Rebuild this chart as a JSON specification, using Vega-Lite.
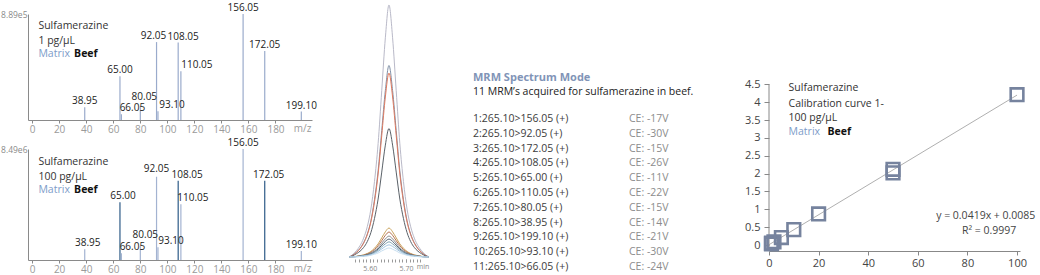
{
  "$schema": "https://vega.github.io/schema/vega-lite/v6.json",
  "padding": {"left": 0, "top": 3, "right": 0, "bottom": 0},
  "background": "white",
  "config": {"view": {"stroke": null}, "font": "Open Sans"},
  "spacing": 20,
  "hconcat": [
    {
      "bounds": "flush",
      "spacing": 29,
      "vconcat": [
        {
          "width": 284,
          "height": 106,
          "data": {"values": [
            {"mz": 38.95, "i": 12}, {"mz": 65.00, "i": 41.3}, {"mz": 66.05, "i": 5.4},
            {"mz": 80.05, "i": 13}, {"mz": 92.05, "i": 73.5}, {"mz": 93.10, "i": 8.2},
            {"mz": 108.05, "i": 73}, {"mz": 110.05, "i": 46}, {"mz": 156.05, "i": 100},
            {"mz": 172.05, "i": 65}, {"mz": 199.10, "i": 8}
          ]},
          "layer": [
            {
              "mark": {"type": "rule", "strokeWidth": 1.2},
              "encoding": {
                "x": {"field": "mz", "type": "quantitative",
                  "scale": {"domain": [-3, 207], "nice": false, "zero": false},
                  "axis": {"values": [0, 20, 40, 60, 80, 100, 120, 140, 160, 180], "tickCount": 50, "title": null, "grid": false,
                    "domainColor": "#8a8a8a", "tickColor": "#8a8a8a", "tickSize": 3, "labelPadding": 1,
                    "labelFontSize": 10, "labelColor": "#9a9a9a", "labelOverlap": false, "labelFlush": false}},
                "y": {"field": "i", "type": "quantitative",
                  "scale": {"domain": [0, 100], "nice": false},
                  "axis": {"values": [100], "labelExpr": "'8.89e5'", "title": null, "grid": false, "ticks": false,
                    "domainColor": "#8a8a8a", "labelPadding": 1, "labelFontSize": 8.5, "labelColor": "#8a8a8a"}},
                "y2": {"datum": 0},
                "color": {"value": "#9aabcc"}
              }
            },
            {
              "mark": {"type": "text", "baseline": "bottom", "fontSize": 10, "color": "#222",
                "dx": {"expr": "datum.mz==66.05?11:datum.mz==80.05?4:datum.mz==92.05?-3:datum.mz==93.1?14:datum.mz==108.05?5:datum.mz==110.05?16:0"},
                "dy": {"expr": "datum.mz==80.05?-4:-1"}},
              "encoding": {
                "x": {"field": "mz", "type": "quantitative"},
                "y": {"field": "i", "type": "quantitative"},
                "text": {"field": "mz", "type": "quantitative", "format": ".2f"}
              }
            },
            {
              "data": {"values": [{}]},
              "mark": {"type": "text", "align": "center", "baseline": "middle", "dy": 9, "fontSize": 10, "color": "#9a9a9a"},
              "encoding": {"x": {"datum": 200}, "y": {"datum": 0}, "text": {"value": "m/z"}}
            },
            {
              "data": {"values": [{}]},
              "mark": {"type": "text", "align": "left", "baseline": "middle", "fontSize": 10.5, "color": "#333"},
              "encoding": {"x": {"datum": 4.7}, "y": {"datum": 89}, "text": {"value": "Sulfamerazine"}}
            },
            {
              "data": {"values": [{}]},
              "mark": {"type": "text", "align": "left", "baseline": "middle", "fontSize": 10.5, "color": "#333"},
              "encoding": {"x": {"datum": 4.7}, "y": {"datum": 74.5}, "text": {"value": "1 pg/µL"}}
            },
            {
              "data": {"values": [{}]},
              "mark": {"type": "text", "align": "left", "baseline": "middle", "fontSize": 10.5, "color": "#7d9cc9"},
              "encoding": {"x": {"datum": 4.7}, "y": {"datum": 61.8}, "text": {"value": "Matrix"}}
            },
            {
              "data": {"values": [{}]},
              "mark": {"type": "text", "align": "left", "baseline": "middle", "fontSize": 10.5, "fontWeight": "bold", "color": "#111"},
              "encoding": {"x": {"datum": 31.1}, "y": {"datum": 61.8}, "text": {"value": "Beef"}}
            }
          ]
        },
        {
          "width": 284,
          "height": 111,
          "data": {"values": [
            {"mz": 38.95, "i": 9.7}, {"mz": 65.00, "i": 52}, {"mz": 66.05, "i": 6},
            {"mz": 80.05, "i": 12.6}, {"mz": 92.05, "i": 75}, {"mz": 93.10, "i": 11.5},
            {"mz": 108.05, "i": 71.4}, {"mz": 110.05, "i": 50.3}, {"mz": 156.05, "i": 100},
            {"mz": 172.05, "i": 71.4}, {"mz": 199.10, "i": 8}
          ]},
          "layer": [
            {
              "mark": {"type": "rule", "strokeWidth": 1.2},
              "encoding": {
                "x": {"field": "mz", "type": "quantitative",
                  "scale": {"domain": [-3, 207], "nice": false, "zero": false},
                  "axis": {"values": [0, 20, 40, 60, 80, 100, 120, 140, 160, 180], "tickCount": 50, "title": null, "grid": false,
                    "domainColor": "#8a8a8a", "tickColor": "#8a8a8a", "tickSize": 3, "labelPadding": 1,
                    "labelFontSize": 10, "labelColor": "#9a9a9a", "labelOverlap": false, "labelFlush": false}},
                "y": {"field": "i", "type": "quantitative",
                  "scale": {"domain": [0, 100], "nice": false},
                  "axis": {"values": [100], "labelExpr": "'8.49e6'", "title": null, "grid": false, "ticks": false,
                    "domainColor": "#8a8a8a", "labelPadding": 1, "labelFontSize": 8.5, "labelColor": "#8a8a8a"}},
                "y2": {"datum": 0},
                "color": {"condition": {"test": "datum.mz==65 || datum.mz==108.05 || datum.mz==172.05", "value": "#2e5b87"}, "value": "#a3b3d1"}
              }
            },
            {
              "mark": {"type": "text", "baseline": "bottom", "fontSize": 10, "color": "#222",
                "dx": {"expr": "datum.mz==38.95?3:datum.mz==65?3:datum.mz==66.05?11:datum.mz==80.05?5:datum.mz==93.1?13:datum.mz==108.05?9:datum.mz==110.05?12:datum.mz==172.05?4:0"},
                "dy": {"expr": "datum.mz==80.05?-6:datum.mz==92.05?-3:-1"}},
              "encoding": {
                "x": {"field": "mz", "type": "quantitative"},
                "y": {"field": "i", "type": "quantitative"},
                "text": {"field": "mz", "type": "quantitative", "format": ".2f"}
              }
            },
            {
              "data": {"values": [{}]},
              "mark": {"type": "text", "align": "center", "baseline": "middle", "dy": 9, "fontSize": 10, "color": "#9a9a9a"},
              "encoding": {"x": {"datum": 200}, "y": {"datum": 0}, "text": {"value": "m/z"}}
            },
            {
              "data": {"values": [{}]},
              "mark": {"type": "text", "align": "left", "baseline": "middle", "fontSize": 10.5, "color": "#333"},
              "encoding": {"x": {"datum": 4.7}, "y": {"datum": 88}, "text": {"value": "Sulfamerazine"}}
            },
            {
              "data": {"values": [{}]},
              "mark": {"type": "text", "align": "left", "baseline": "middle", "fontSize": 10.5, "color": "#333"},
              "encoding": {"x": {"datum": 4.7}, "y": {"datum": 74.5}, "text": {"value": "100 pg/µL"}}
            },
            {
              "data": {"values": [{}]},
              "mark": {"type": "text", "align": "left", "baseline": "middle", "fontSize": 10.5, "color": "#7d9cc9"},
              "encoding": {"x": {"datum": 4.7}, "y": {"datum": 63}, "text": {"value": "Matrix"}}
            },
            {
              "data": {"values": [{}]},
              "mark": {"type": "text", "align": "left", "baseline": "middle", "fontSize": 10.5, "fontWeight": "bold", "color": "#111"},
              "encoding": {"x": {"datum": 31.1}, "y": {"datum": 63}, "text": {"value": "Beef"}}
            }
          ]
        }
      ]
    },
    {
      "width": 116,
      "height": 245,
      "data": {"values": [
        {"t": 5.543, "c1": 0, "c2": 0, "c3": 0, "c4": 0, "c5": 0, "c6": 0, "c7": 0, "c8": 0, "c9": 0, "c10": 0, "c11": 0},
        {"t": 5.553, "c1": 1, "c2": 0.8, "c3": 0.7, "c4": 0.5, "c5": 0.1, "c6": 0.1, "c7": 0.1, "c8": 0.1, "c9": 0.1, "c10": 0, "c11": 0},
        {"t": 5.563, "c1": 2.5, "c2": 1.9, "c3": 1.8, "c4": 1.3, "c5": 0.3, "c6": 0.2, "c7": 0.2, "c8": 0.2, "c9": 0.2, "c10": 0.1, "c11": 0.1},
        {"t": 5.573, "c1": 4.5, "c2": 3.4, "c3": 3.3, "c4": 2.3, "c5": 0.5, "c6": 0.4, "c7": 0.4, "c8": 0.3, "c9": 0.3, "c10": 0.2, "c11": 0.2},
        {"t": 5.583, "c1": 7.5, "c2": 5.7, "c3": 5.5, "c4": 3.8, "c5": 0.9, "c6": 0.7, "c7": 0.6, "c8": 0.5, "c9": 0.5, "c10": 0.4, "c11": 0.3},
        {"t": 5.593, "c1": 12, "c2": 9.1, "c3": 8.8, "c4": 6.1, "c5": 1.4, "c6": 1.2, "c7": 1, "c8": 0.9, "c9": 0.7, "c10": 0.6, "c11": 0.4},
        {"t": 5.603, "c1": 19, "c2": 14.4, "c3": 13.9, "c4": 9.7, "c5": 2.2, "c6": 1.9, "c7": 1.6, "c8": 1.3, "c9": 1.1, "c10": 0.9, "c11": 0.7},
        {"t": 5.613, "c1": 30, "c2": 22.8, "c3": 21.9, "c4": 15.3, "c5": 3.5, "c6": 3, "c7": 2.5, "c8": 2.1, "c9": 1.8, "c10": 1.4, "c11": 1.1},
        {"t": 5.623, "c1": 45, "c2": 34.2, "c3": 32.9, "c4": 23, "c5": 5.2, "c6": 4.5, "c7": 3.7, "c8": 3.2, "c9": 2.7, "c10": 2.2, "c11": 1.6},
        {"t": 5.633, "c1": 66, "c2": 50.2, "c3": 48.2, "c4": 33.7, "c5": 7.6, "c6": 6.5, "c7": 5.5, "c8": 4.7, "c9": 4, "c10": 3.2, "c11": 2.4},
        {"t": 5.643, "c1": 87, "c2": 66.1, "c3": 63.5, "c4": 44.4, "c5": 10, "c6": 8.6, "c7": 7.2, "c8": 6.2, "c9": 5.2, "c10": 4.2, "c11": 3.1},
        {"t": 5.653, "c1": 100, "c2": 76, "c3": 73, "c4": 51, "c5": 11.5, "c6": 9.9, "c7": 8.3, "c8": 7.1, "c9": 6, "c10": 4.8, "c11": 3.6},
        {"t": 5.663, "c1": 87, "c2": 66.1, "c3": 63.5, "c4": 44.4, "c5": 10, "c6": 8.6, "c7": 7.2, "c8": 6.2, "c9": 5.2, "c10": 4.2, "c11": 3.1},
        {"t": 5.673, "c1": 66, "c2": 50.2, "c3": 48.2, "c4": 33.7, "c5": 7.6, "c6": 6.5, "c7": 5.5, "c8": 4.7, "c9": 4, "c10": 3.2, "c11": 2.4},
        {"t": 5.683, "c1": 45, "c2": 34.2, "c3": 32.9, "c4": 23, "c5": 5.2, "c6": 4.5, "c7": 3.7, "c8": 3.2, "c9": 2.7, "c10": 2.2, "c11": 1.6},
        {"t": 5.693, "c1": 30, "c2": 22.8, "c3": 21.9, "c4": 15.3, "c5": 3.5, "c6": 3, "c7": 2.5, "c8": 2.1, "c9": 1.8, "c10": 1.4, "c11": 1.1},
        {"t": 5.703, "c1": 19, "c2": 14.4, "c3": 13.9, "c4": 9.7, "c5": 2.2, "c6": 1.9, "c7": 1.6, "c8": 1.3, "c9": 1.1, "c10": 0.9, "c11": 0.7},
        {"t": 5.713, "c1": 12, "c2": 9.1, "c3": 8.8, "c4": 6.1, "c5": 1.4, "c6": 1.2, "c7": 1, "c8": 0.9, "c9": 0.7, "c10": 0.6, "c11": 0.4},
        {"t": 5.723, "c1": 7.5, "c2": 5.7, "c3": 5.5, "c4": 3.8, "c5": 0.9, "c6": 0.7, "c7": 0.6, "c8": 0.5, "c9": 0.5, "c10": 0.4, "c11": 0.3},
        {"t": 5.733, "c1": 4.5, "c2": 3.4, "c3": 3.3, "c4": 2.3, "c5": 0.5, "c6": 0.4, "c7": 0.4, "c8": 0.3, "c9": 0.3, "c10": 0.2, "c11": 0.2},
        {"t": 5.743, "c1": 2.5, "c2": 1.9, "c3": 1.8, "c4": 1.3, "c5": 0.3, "c6": 0.2, "c7": 0.2, "c8": 0.2, "c9": 0.2, "c10": 0.1, "c11": 0.1},
        {"t": 5.753, "c1": 1, "c2": 0.8, "c3": 0.7, "c4": 0.5, "c5": 0.1, "c6": 0.1, "c7": 0.1, "c8": 0.1, "c9": 0.1, "c10": 0, "c11": 0},
        {"t": 5.763, "c1": 0, "c2": 0, "c3": 0, "c4": 0, "c5": 0, "c6": 0, "c7": 0, "c8": 0, "c9": 0, "c10": 0, "c11": 0}
      ]},
      "resolve": {"axis": {"x": "independent"}},
      "layer": [
        {
          "transform": [{"fold": ["c1", "c2", "c3", "c4", "c5", "c6", "c7", "c8", "c9", "c10", "c11"], "as": ["curve", "v"]}],
          "mark": {"type": "line", "strokeWidth": 1, "interpolate": "monotone"},
          "encoding": {
            "x": {"field": "t", "type": "quantitative",
              "scale": {"domain": [5.5094, 5.8299], "nice": false, "zero": false},
              "axis": {"orient": "bottom", "values": [5.56, 5.57, 5.58, 5.59, 5.6, 5.61, 5.62, 5.63, 5.64, 5.65, 5.66, 5.67, 5.68, 5.69, 5.7, 5.71, 5.72, 5.73, 5.74],
                "tickCount": 100, "labels": false, "title": null, "grid": false, "domain": false, "tickSize": 3, "tickColor": "#9a9a9a"}},
            "y": {"field": "v", "type": "quantitative",
              "scale": {"domain": [-0.79, 96.43], "nice": false, "zero": false}, "axis": null},
            "color": {"field": "curve", "type": "nominal",
              "scale": {"domain": ["c1", "c2", "c3", "c4", "c5", "c6", "c7", "c8", "c9", "c10", "c11"],
                "range": ["#b9b9c8", "#7f8fa6", "#e07a5f", "#5a6168", "#c9a25a", "#b5704f", "#8c8c8c", "#4f5d6e", "#7ca0b0", "#9ec2e0", "#c8dff0"]},
              "legend": null}
          }
        },
        {
          "data": {"values": [{}]},
          "mark": {"type": "text", "align": "center", "baseline": "middle", "fontSize": 7, "color": "#888888"},
          "encoding": {
            "x": {"datum": 5.747, "type": "quantitative",
              "axis": {"orient": "bottom", "values": [5.6, 5.7], "tickCount": 100, "format": ".2f", "title": null, "grid": false, "domain": false, "tickSize": 3, "tickColor": "#9a9a9a",
                "labelFontSize": 7, "labelColor": "#888888", "labelPadding": 2, "labelFlush": false, "labelOverlap": false}},
            "y": {"datum": -3.97},
            "text": {"value": "min"}
          }
        }
      ]
    },
    {
      "width": 250.5,
      "height": 255,
      "data": {"values": [
        {"n": 1, "mrm": "1:265.10>156.05 (+)", "ce": "CE: -17V"},
        {"n": 2, "mrm": "2:265.10>92.05 (+)", "ce": "CE: -30V"},
        {"n": 3, "mrm": "3:265.10>172.05 (+)", "ce": "CE: -15V"},
        {"n": 4, "mrm": "4:265.10>108.05 (+)", "ce": "CE: -26V"},
        {"n": 5, "mrm": "5:265.10>65.00 (+)", "ce": "CE: -11V"},
        {"n": 6, "mrm": "6:265.10>110.05 (+)", "ce": "CE: -22V"},
        {"n": 7, "mrm": "7:265.10>80.05 (+)", "ce": "CE: -15V"},
        {"n": 8, "mrm": "8:265.10>38.95 (+)", "ce": "CE: -14V"},
        {"n": 9, "mrm": "9:265.10>199.10 (+)", "ce": "CE: -21V"},
        {"n": 10, "mrm": "10:265.10>93.10 (+)", "ce": "CE: -30V"},
        {"n": 11, "mrm": "11:265.10>66.05 (+)", "ce": "CE: -24V"}
      ]},
      "layer": [
        {
          "mark": {"type": "text", "align": "left", "baseline": "middle", "fontSize": 10.5, "color": "#3c3c3c"},
          "encoding": {
            "x": {"datum": 0, "type": "quantitative", "scale": {"domain": [0, 1.6058], "nice": false, "zero": false}, "axis": null},
            "y": {"field": "n", "type": "quantitative", "scale": {"domain": [-6.095, 11.135], "nice": false, "zero": false, "reverse": true}, "axis": null},
            "text": {"field": "mrm"}
          }
        },
        {
          "mark": {"type": "text", "align": "left", "baseline": "middle", "fontSize": 10.5, "color": "#8c8c8c"},
          "encoding": {
            "x": {"datum": 1, "type": "quantitative"},
            "y": {"field": "n", "type": "quantitative"},
            "text": {"field": "ce"}
          }
        },
        {
          "data": {"values": [{}]},
          "mark": {"type": "text", "align": "left", "baseline": "middle", "fontSize": 11, "fontWeight": "bold", "color": "#8194b7"},
          "encoding": {"x": {"datum": 0}, "y": {"datum": -1.75}, "text": {"value": "MRM Spectrum Mode"}}
        },
        {
          "data": {"values": [{}]},
          "mark": {"type": "text", "align": "left", "baseline": "middle", "fontSize": 10.5, "color": "#222222"},
          "encoding": {"x": {"datum": 0}, "y": {"datum": -0.85}, "text": {"value": "11 MRM’s acquired for sulfamerazine in beef."}}
        }
      ]
    },
    {
      "width": 251,
      "height": 237,
      "layer": [
        {
          "data": {"values": [{"x": 0, "y": 0.0085}, {"x": 100, "y": 4.1985}]},
          "mark": {"type": "line", "color": "#9a9a9a", "strokeWidth": 0.8},
          "encoding": {
            "x": {"field": "x", "type": "quantitative",
              "scale": {"domain": [0, 101.2], "nice": false, "zero": false},
              "axis": {"values": [0, 20, 40, 60, 80, 100], "tickCount": 50, "title": null, "grid": false, "tickSize": 4,
                "labelFontSize": 11, "labelColor": "#444444", "domainColor": "#888888", "tickColor": "#888888", "labelPadding": 2,
                "labelOverlap": false, "labelFlush": false}},
            "y": {"field": "y", "type": "quantitative",
              "scale": {"domain": [-0.168, 6.47], "nice": false, "zero": false},
              "axis": {"values": [0, 0.5, 1, 1.5, 2, 2.5, 3, 3.5, 4, 4.5], "tickCount": 50, "format": "~g", "title": null, "grid": false,
                "domain": false, "tickSize": 5, "tickColor": "#888888", "labelFontSize": 11, "labelColor": "#444444", "labelPadding": 4,
                "labelOverlap": false, "labelFlush": false}}
          }
        },
        {
          "data": {"values": [{}]},
          "mark": {"type": "rule", "color": "#888888", "strokeWidth": 1},
          "encoding": {"x": {"datum": 0}, "y": {"datum": -0.168}, "y2": {"datum": 4.5}}
        },
        {
          "data": {"values": [
            {"x": 1, "y": 0.05}, {"x": 1, "y": 0.03}, {"x": 2, "y": 0.09}, {"x": 5, "y": 0.21},
            {"x": 10, "y": 0.43}, {"x": 20, "y": 0.87}, {"x": 50, "y": 2.12}, {"x": 50, "y": 2.02}, {"x": 100, "y": 4.21}
          ]},
          "mark": {"type": "point", "shape": "square", "size": 160, "strokeWidth": 2.6, "filled": false, "color": "#76839e", "opacity": 1},
          "encoding": {"x": {"field": "x", "type": "quantitative"}, "y": {"field": "y", "type": "quantitative"}}
        },
        {
          "data": {"values": [{}]},
          "mark": {"type": "text", "align": "left", "baseline": "middle", "fontSize": 10.5, "color": "#333333"},
          "encoding": {"x": {"datum": 7.9}, "y": {"datum": 4.4}, "text": {"value": "Sulfamerazine"}}
        },
        {
          "data": {"values": [{}]},
          "mark": {"type": "text", "align": "left", "baseline": "middle", "fontSize": 10.5, "color": "#333333"},
          "encoding": {"x": {"datum": 7.9}, "y": {"datum": 3.95}, "text": {"value": "Calibration curve 1-"}}
        },
        {
          "data": {"values": [{}]},
          "mark": {"type": "text", "align": "left", "baseline": "middle", "fontSize": 10.5, "color": "#333333"},
          "encoding": {"x": {"datum": 7.9}, "y": {"datum": 3.56}, "text": {"value": "100 pg/µL"}}
        },
        {
          "data": {"values": [{}]},
          "mark": {"type": "text", "align": "left", "baseline": "middle", "fontSize": 10.5, "color": "#7d9cc9"},
          "encoding": {"x": {"datum": 7.9}, "y": {"datum": 3.17}, "text": {"value": "Matrix"}}
        },
        {
          "data": {"values": [{}]},
          "mark": {"type": "text", "align": "left", "baseline": "middle", "fontSize": 10.5, "fontWeight": "bold", "color": "#111111"},
          "encoding": {"x": {"datum": 23.6}, "y": {"datum": 3.17}, "text": {"value": "Beef"}}
        },
        {
          "data": {"values": [{}]},
          "mark": {"type": "text", "align": "right", "baseline": "middle", "fontSize": 10.5, "color": "#444444"},
          "encoding": {"x": {"datum": 107.4}, "y": {"datum": 0.81}, "text": {"value": "y = 0.0419x + 0.0085"}}
        },
        {
          "data": {"values": [{}]},
          "mark": {"type": "text", "align": "right", "baseline": "middle", "fontSize": 10.5, "color": "#444444"},
          "encoding": {"x": {"datum": 99.7}, "y": {"datum": 0.39}, "text": {"value": "R² = 0.9997"}}
        }
      ]
    }
  ]
}
